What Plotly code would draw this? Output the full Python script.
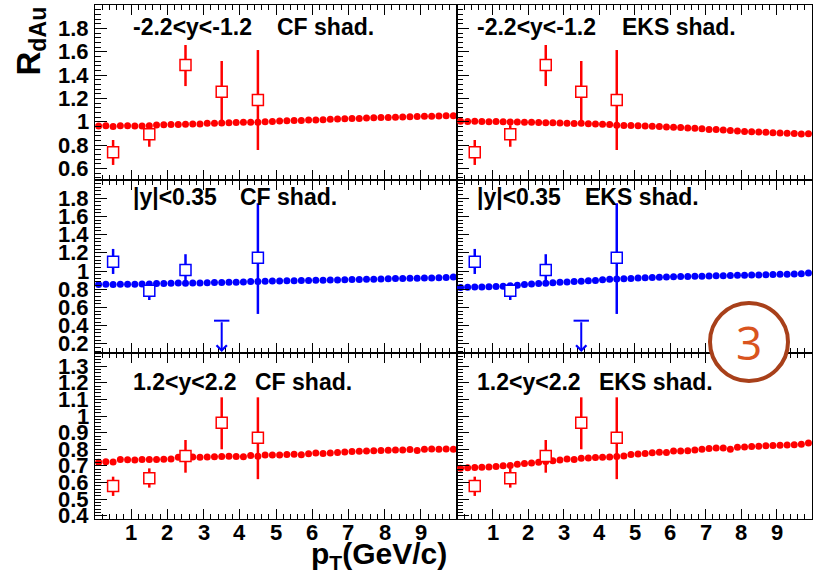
import plotly.graph_objects as go

W, H = 816, 577

# ---------------- data ----------------
model_x = [0.1, 0.3, 0.5, 0.7, 0.9, 1.1, 1.3, 1.5, 1.7, 1.9,
           2.1, 2.3, 2.5, 2.7, 2.9, 3.1, 3.3, 3.5, 3.7, 3.9,
           4.1, 4.3, 4.5, 4.7, 4.9, 5.1, 5.3, 5.5, 5.7, 5.9,
           6.1, 6.3, 6.5, 6.7, 6.9, 7.1, 7.3, 7.5, 7.7, 7.9,
           8.1, 8.3, 8.5, 8.7, 8.9, 9.1, 9.3, 9.5, 9.7, 9.9]

cf_bwd = [0.962, 0.966, 0.958, 0.964, 0.965, 0.963, 0.962, 0.966, 0.972, 0.974,
          0.975, 0.976, 0.977, 0.980, 0.979, 0.986, 0.987, 0.988, 0.990, 0.992,
          0.994, 0.996, 0.994, 1.000, 1.002, 1.006, 1.008, 1.010, 1.011, 1.014,
          1.015, 1.017, 1.020, 1.022, 1.026, 1.027, 1.028, 1.032, 1.034, 1.035,
          1.036, 1.038, 1.040, 1.042, 1.044, 1.046, 1.047, 1.049, 1.051, 1.050]
eks_bwd = [1.004, 1.002, 1.003, 1.001, 1.000, 1.002, 0.999, 0.998, 0.997, 0.995,
           0.994, 0.993, 0.991, 0.990, 0.988, 0.987, 0.985, 0.986, 0.982, 0.980,
           0.977, 0.975, 0.970, 0.968, 0.967, 0.964, 0.962, 0.960, 0.958, 0.955,
           0.952, 0.949, 0.946, 0.944, 0.940, 0.932, 0.933, 0.928, 0.925, 0.921,
           0.916, 0.914, 0.911, 0.909, 0.906, 0.903, 0.901, 0.899, 0.894, 0.897]
cf_mid = [0.852, 0.854, 0.853, 0.855, 0.854, 0.856, 0.857, 0.858, 0.862, 0.864,
          0.866, 0.868, 0.867, 0.869, 0.870, 0.872, 0.874, 0.875, 0.877, 0.878,
          0.880, 0.884, 0.886, 0.889, 0.890, 0.891, 0.893, 0.894, 0.896, 0.897,
          0.899, 0.900, 0.902, 0.903, 0.905, 0.907, 0.908, 0.909, 0.911, 0.913,
          0.915, 0.917, 0.917, 0.920, 0.921, 0.924, 0.925, 0.927, 0.929, 0.935]
eks_mid = [0.820, 0.822, 0.824, 0.825, 0.827, 0.829, 0.833, 0.838, 0.845, 0.852,
           0.858, 0.862, 0.867, 0.871, 0.876, 0.880, 0.884, 0.888, 0.893, 0.897,
           0.905, 0.910, 0.914, 0.916, 0.919, 0.924, 0.927, 0.929, 0.932, 0.934,
           0.937, 0.939, 0.940, 0.942, 0.944, 0.946, 0.948, 0.949, 0.951, 0.953,
           0.955, 0.957, 0.958, 0.960, 0.962, 0.964, 0.966, 0.968, 0.970, 0.978]
cf_fwd = [0.722, 0.725, 0.724, 0.738, 0.737, 0.736, 0.739, 0.739, 0.738, 0.740,
          0.742, 0.752, 0.755, 0.754, 0.752, 0.753, 0.755, 0.757, 0.758, 0.757,
          0.755, 0.763, 0.758, 0.765, 0.765, 0.766, 0.768, 0.770, 0.767, 0.773,
          0.777, 0.774, 0.778, 0.780, 0.783, 0.786, 0.788, 0.789, 0.791, 0.792,
          0.794, 0.795, 0.796, 0.798, 0.793, 0.800, 0.801, 0.800, 0.801, 0.800]
eks_fwd = [0.686, 0.688, 0.690, 0.692, 0.694, 0.697, 0.701, 0.703, 0.710, 0.715,
           0.718, 0.722, 0.726, 0.731, 0.735, 0.741, 0.739, 0.746, 0.748, 0.750,
           0.752, 0.754, 0.756, 0.760, 0.768, 0.771, 0.775, 0.779, 0.782, 0.781,
           0.790, 0.789, 0.791, 0.796, 0.800, 0.804, 0.807, 0.808, 0.800, 0.812,
           0.814, 0.816, 0.818, 0.822, 0.823, 0.825, 0.826, 0.828, 0.830, 0.838]

pt_x = [0.5, 1.5, 2.5, 3.5, 4.5]
bwd_y = [0.737, 0.892, 1.485, 1.257, 1.186]
bwd_hi = [0.843, 0.970, 1.657, 1.520, 1.614]
bwd_lo = [0.629, 0.785, 1.305, 1.000, 0.757]

mid_x = [0.5, 1.5, 2.5, 4.5]
mid_y = [1.103, 0.785, 1.012, 1.147]
mid_hi = [1.243, 0.830, 1.185, 1.745]
mid_lo = [0.968, 0.682, 0.902, 0.529]
lim_x = [3.5]
lim_y = [0.455]
lim_floor = [0.11]

fwd_y = [0.579, 0.625, 0.760, 0.960, 0.870]
fwd_hi = [0.635, 0.685, 0.856, 1.113, 1.113]
fwd_lo = [0.519, 0.569, 0.659, 0.800, 0.620]

range_labels = ["-2.2<y<-1.2", "|y|<0.35", "1.2<y<2.2"]
model_labels = ["CF shad.", "EKS shad."]

y_ticks = [[0.6, 0.8, 1.0, 1.2, 1.4, 1.6, 1.8],
           [0.2, 0.4, 0.6, 0.8, 1.0, 1.2, 1.4, 1.6, 1.8],
           [0.4, 0.5, 0.6, 0.7, 0.8, 0.9, 1.0, 1.1, 1.2, 1.3]]
y_ticktext = [["0.6", "0.8", "1", "1.2", "1.4", "1.6", "1.8"],
              ["0.2", "0.4", "0.6", "0.8", "1", "1.2", "1.4", "1.6", "1.8"],
              ["0.4", "0.5", "0.6", "0.7", "0.8", "0.9", "1", "1.1", "1.2", "1.3"]]
x_ticks = [0, 1, 2, 3, 4, 5, 6, 7, 8, 9, 10]
x_label_vals = [1, 2, 3, 4, 5, 6, 7, 8, 9]
x_label_text = ["1", "2", "3", "4", "5", "6", "7", "8", "9"]

# ---------------- layout helpers ----------------
RED = "#ff0000"
BLUE = "#0000ff"
FONT = "Liberation Sans"


def px(p):
    return p / W


def py(p):
    return 1 - p / H


col_px = [(95, 457), (457, 812)]
row_px = [(5, 180), (180, 353), (353, 519)]
y_ranges = [[0.5, 2.0], [0.1, 2.0], [0.38, 1.38]]
y_minor = [0.04, 0.04, 0.02]

models = [[cf_bwd, eks_bwd], [cf_mid, eks_mid], [cf_fwd, eks_fwd]]
row_color = [RED, BLUE, RED]
tick_font = dict(family=FONT, size=22, color="black", weight="bold")

fig = go.Figure()
layout = {}
annotations = []

for r in range(3):
    for c in range(2):
        i = r * 2 + c + 1
        xs = "x" if i == 1 else f"x{i}"
        ys = "y" if i == 1 else f"y{i}"
        xk = "xaxis" if i == 1 else f"xaxis{i}"
        yk = "yaxis" if i == 1 else f"yaxis{i}"
        col = row_color[r]

        layout[xk] = dict(
            domain=[px(col_px[c][0]), px(col_px[c][1])], anchor=ys,
            range=[0, 10], showgrid=False, zeroline=False,
            showline=True, linecolor="black", linewidth=1, mirror="ticks",
            ticks="inside", ticklen=10, tickwidth=1, tickcolor="black",
            tickmode="array", tickvals=x_ticks, showticklabels=False,
            minor=dict(ticks="inside", dtick=0.2, tick0=0, ticklen=5,
                       tickcolor="black", tickwidth=1, showgrid=False),
        )
        layout[yk] = dict(
            domain=[py(row_px[r][1]), py(row_px[r][0])], anchor=xs,
            range=y_ranges[r], showgrid=False, zeroline=False,
            showline=True, linecolor="black", linewidth=1, mirror=True,
            ticks="inside", ticklen=12, tickwidth=1, tickcolor="black",
            tickmode="array", tickvals=y_ticks[r], showticklabels=False,
            minor=dict(ticks="inside", dtick=y_minor[r], tick0=0, ticklen=6,
                       tickcolor="black", tickwidth=1, showgrid=False),
        )

        # y tick labels (left column only), placed through the y axis scale
        if c == 0:
            for v, t in zip(y_ticks[r], y_ticktext[r]):
                annotations.append(dict(
                    x=px(91), y=v, xref="paper", yref=ys, text=t,
                    showarrow=False, xanchor="right", yanchor="middle",
                    font=tick_font))
        # x tick labels (bottom row only), placed through the x axis scale
        if r == 2:
            for v, t in zip(x_label_vals, x_label_text):
                annotations.append(dict(
                    x=v, y=py(532), xref=xs, yref="paper", text=t,
                    showarrow=False, xanchor="center", yanchor="middle",
                    font=tick_font))

        # model curve
        fig.add_trace(go.Scatter(
            x=model_x, y=models[r][c], mode="markers", xaxis=xs, yaxis=ys,
            marker=dict(symbol="circle", size=7, color=col, line=dict(width=0)),
            showlegend=False, cliponaxis=True, hoverinfo="skip"))

        # data points
        if r == 0:
            dx, dy, dh, dl = pt_x, bwd_y, bwd_hi, bwd_lo
        elif r == 1:
            dx, dy, dh, dl = mid_x, mid_y, mid_hi, mid_lo
        else:
            dx, dy, dh, dl = pt_x, fwd_y, fwd_hi, fwd_lo
        fig.add_trace(go.Scatter(
            x=dx, y=dy, mode="markers", xaxis=xs, yaxis=ys,
            marker=dict(symbol="square", size=11, color="white",
                        line=dict(color=col, width=1.5)),
            error_y=dict(type="data", symmetric=False,
                         array=[h - v for h, v in zip(dh, dy)],
                         arrayminus=[v - l for v, l in zip(dy, dl)],
                         color=col, thickness=2.5, width=0),
            showlegend=False, hoverinfo="skip"))

        if r == 1:
            fig.add_trace(go.Scatter(
                x=lim_x, y=lim_y, mode="markers", xaxis=xs, yaxis=ys,
                marker=dict(symbol="line-ew", size=11,
                            line=dict(color=BLUE, width=2)),
                showlegend=False, hoverinfo="skip"))
            for lx, ly, lf in zip(lim_x, lim_y, lim_floor):
                annotations.append(dict(
                    x=lx, y=lf, xref=xs, yref=ys, ax=lx, ay=ly,
                    axref=xs, ayref=ys, showarrow=True, arrowhead=4,
                    arrowsize=1, arrowwidth=2, arrowcolor=BLUE, text=""))

        # panel titles
        tx = 131 if c == 0 else 475
        mx = {0: [275, 620], 1: [238, 583], 2: [253, 597]}[r][c]
        ty = [27, 197, 382][r]
        annotations.append(dict(
            x=px(tx), y=py(ty), xref="paper", yref="paper",
            text=range_labels[r], showarrow=False, xanchor="left", yanchor="middle",
            font=dict(family=FONT, size=23, color="black", weight="bold")))
        annotations.append(dict(
            x=px(mx), y=py(ty), xref="paper", yref="paper",
            text=model_labels[c], showarrow=False, xanchor="left", yanchor="middle",
            font=dict(family=FONT, size=23, color="black", weight="bold")))

# axis titles
annotations.append(dict(
    x=px(30), y=py(5), xref="paper", yref="paper",
    text="R<sub>dAu</sub>", textangle=-90, showarrow=False,
    xanchor="center", yanchor="top",
    font=dict(family=FONT, size=33, color="black", weight="bold")))
annotations.append(dict(
    x=px(449), y=py(576), xref="paper", yref="paper",
    text="p<sub>T</sub>(GeV/c)", showarrow=False,
    xanchor="right", yanchor="bottom",
    font=dict(family=FONT, size=30, color="black", weight="bold")))

# circled "3" badge
annotations.append(dict(
    x=px(749), y=py(342), xref="paper", yref="paper", text="3",
    showarrow=False, xanchor="center", yanchor="middle",
    font=dict(family="Open Sans", size=46, color="#d9541e")))

shapes = [dict(type="circle", xref="paper", yref="paper",
               x0=px(710), x1=px(788), y0=py(381), y1=py(303),
               line=dict(color="#a8401a", width=4), fillcolor="white",
               layer="above")]

fig.update_layout(
    width=W, height=H, margin=dict(l=0, r=0, t=0, b=0),
    paper_bgcolor="white", plot_bgcolor="white",
    annotations=annotations, shapes=shapes, showlegend=False, **layout)

fig.write_html("out.html", config={"displayModeBar": False},
               post_script="document.body.style.margin='0px';")
